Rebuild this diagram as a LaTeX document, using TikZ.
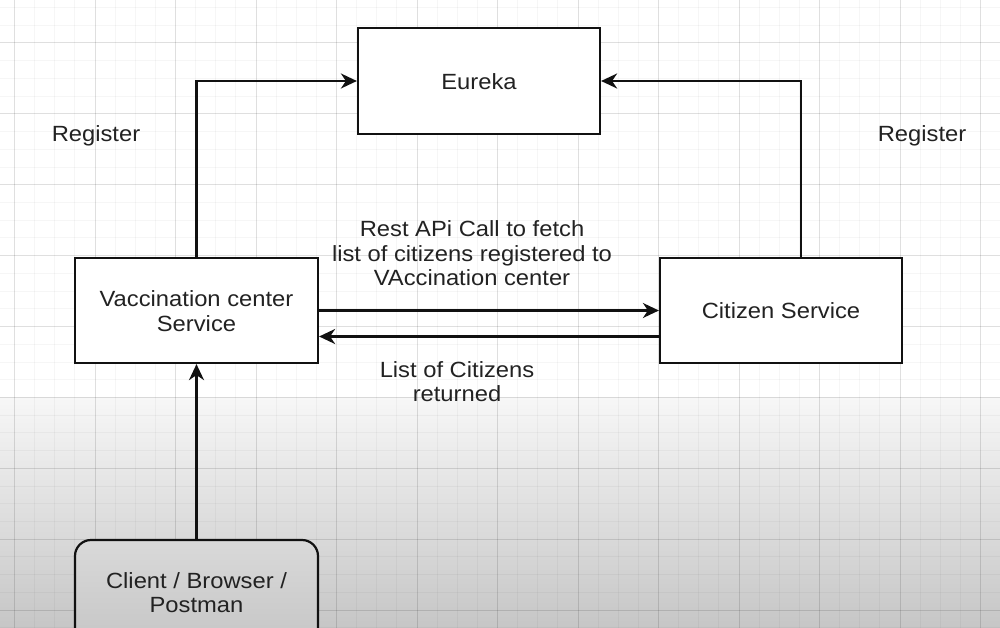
\documentclass[tikz,border=0pt]{standalone}
\usepackage{fontspec}
\setmainfont{Liberation Sans}
\usepackage{graphicx}
\usetikzlibrary{arrows.meta,calc}
\definecolor{txt}{HTML}{222222}
\definecolor{ln}{HTML}{111111}
\definecolor{gtop}{HTML}{F7F7F7}
\definecolor{gbot}{HTML}{C6C6C6}
\definecolor{ctop}{HTML}{D9D9D9}
\newcommand{\T}[1]{\raisebox{-3.5pt}[\height][\depth]{\scalebox{1.08}[1]{\begin{tabular}{@{}c@{}}#1\end{tabular}}}}
\tikzset{
  minorgrid/.style={draw=black, draw opacity=0.035, line width=1pt},
  majorgrid/.style={draw=black, draw opacity=0.09, line width=1pt},
  box/.style={draw=ln, line width=2.2pt, fill=white, inner sep=0pt, text=txt,
    font=\fontsize{22}{24.5}\selectfont},
  lbl/.style={inner sep=0pt, text=txt, font=\fontsize{22}{24.5}\selectfont},
  conn/.style={draw=ln, line width=2.2pt, -{Stealth[length=16pt,width=15pt,inset=5pt]}},
}
\begin{document}
\begin{tikzpicture}[x=1pt,y=-1pt]
\useasboundingbox (0,0) rectangle (1000,628);
\clip (0,0) rectangle (1000,628);
\fill[white] (0,0) rectangle (1000,628);
\shade[top color=gtop, bottom color=gbot] (0,397) rectangle (1000,628);
\foreach \i in {0,...,49} {
  \pgfmathsetmacro\xx{14.5+20.125*\i}
  \draw[minorgrid] (\xx,0) -- (\xx,628);
}
\foreach \i in {0,...,35} {
  \pgfmathsetmacro\yy{7.5+17.725*\i}
  \draw[minorgrid] (0,\yy) -- (1000,\yy);
}
\foreach \i in {-1,...,11} {
  \pgfmathsetmacro\xx{95+80.5*\i}
  \draw[majorgrid] (\xx,0) -- (\xx,628);
}
\foreach \i in {0,...,8} {
  \pgfmathsetmacro\yy{43+70.9*\i}
  \draw[majorgrid] (0,\yy) -- (1000,\yy);
}

\node[box, minimum width=242pt, minimum height=106pt] (eureka) at (479,81) {\T{Eureka}};
\node[box, minimum width=243pt, minimum height=105pt] (vacc) at (196.5,310.5) {\T{Vaccination center\\Service}};
\node[box, minimum width=242pt, minimum height=105pt] (cit) at (781,310.5) {\T{Citizen Service}};
\node[box, rounded corners=16pt, top color=ctop, bottom color=gbot, minimum width=243pt, minimum height=104pt] (client) at (196.5,592) {\T{Client / Browser /\\Postman}};

\node[lbl] (regl) at (96,133) {\T{Register}};
\node[lbl] (regr) at (922,133) {\T{Register}};
\node[lbl] (rest) at (472,253) {\T{Rest APi Call to fetch\\list of citizens registered to\\VAccination center}};
\node[lbl] (ret) at (457,381) {\T{List of Citizens\\returned}};

\draw[conn] (vacc.north) |- (eureka.west);
\draw[conn] ([xshift=20pt]cit.north) |- (eureka.east);
\draw[conn] (vacc.east) -- (cit.west);
\draw[conn] ([yshift=-26pt]cit.west) -- ([yshift=-26pt]vacc.east);
\draw[conn] (client.north) -- (vacc.south);
\end{tikzpicture}
\end{document}
